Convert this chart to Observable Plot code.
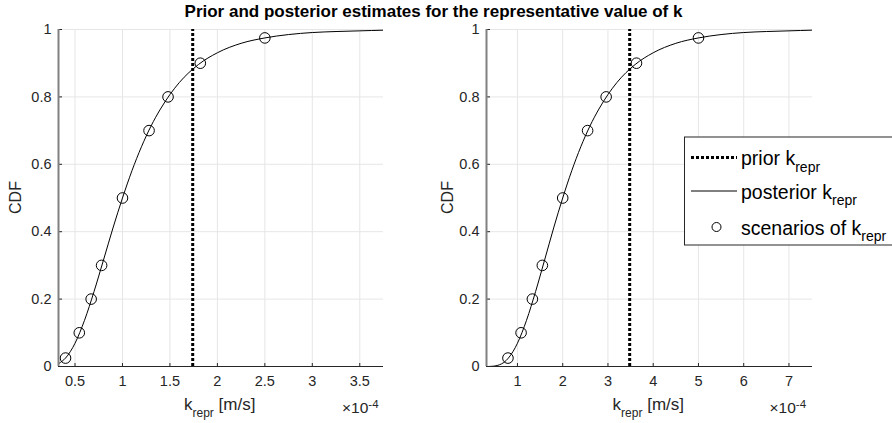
<!DOCTYPE html>
<html><head><meta charset="utf-8">
<script src="https://cdn.jsdelivr.net/npm/d3@7"></script>
<script src="https://cdn.jsdelivr.net/npm/@observablehq/plot@0.6"></script>
<style>
html,body{margin:0;padding:0;background:#fff;}
body{width:892px;height:423px;overflow:hidden;position:relative;font-family:"Liberation Sans",Arial,Helvetica,sans-serif;}
.panel{position:absolute;top:0;}
#overlay{position:absolute;left:0;top:0;pointer-events:none;}
</style></head><body>
<div id="left" class="panel" style="left:0px"></div>
<div id="right" class="panel" style="left:440px"></div>
<svg id="overlay" width="892" height="423" xmlns="http://www.w3.org/2000/svg"></svg>
<script>
// ---- data (k in units of 1e-4 m/s) ----
const titleText = "Prior and posterior estimates for the representative value of k";
const cdfLevels = [0.025, 0.1, 0.2, 0.3, 0.5, 0.7, 0.8, 0.9, 0.975];
const leftScenarioK  = [0.40, 0.545, 0.67, 0.78, 1.0, 1.28, 1.48, 1.82, 2.5];
const rightScenarioK = [0.79, 1.08, 1.33, 1.55, 2.0, 2.55, 2.96, 3.63, 5.0];
const leftPriorK = 1.74;
const rightPriorK = 3.48;
const leftCurveK   = [0.33, 0.4, 0.5, 0.6, 0.7, 0.8, 0.9, 1.0, 1.1, 1.2, 1.3, 1.4, 1.5, 1.6, 1.8, 2.0, 2.25, 2.5, 2.75, 3.0, 3.25, 3.5, 3.75];
const leftCurveCDF = [0.009, 0.025, 0.069, 0.137, 0.222, 0.316, 0.411, 0.5, 0.581, 0.652, 0.713, 0.764, 0.807, 0.843, 0.896, 0.931, 0.959, 0.975, 0.985, 0.991, 0.994, 0.996, 0.998];
const rightCurveK   = [0.32, 0.4, 0.5, 0.6, 0.7, 0.8, 1.0, 1.2, 1.4, 1.6, 1.8, 2.0, 2.2, 2.4, 2.6, 2.8, 3.0, 3.2, 3.6, 4.0, 4.5, 5.0, 5.5, 6.0, 6.5, 7.0, 7.5];
const rightCurveCDF = [0.0, 0.0003, 0.0015, 0.005, 0.012, 0.025, 0.069, 0.137, 0.222, 0.316, 0.411, 0.5, 0.581, 0.652, 0.713, 0.764, 0.807, 0.843, 0.896, 0.931, 0.959, 0.975, 0.985, 0.991, 0.994, 0.996, 0.998];
const leftXTicks  = [0.5, 1, 1.5, 2, 2.5, 3, 3.5];
const rightXTicks = [1, 2, 3, 4, 5, 6, 7];
const yTicks = [0, 0.2, 0.4, 0.6, 0.8, 1];
const leftXDomain = [0.326, 3.75];
const rightXDomain = [0.316, 7.52];

const FONT = '"Liberation Sans", Arial, Helvetica, sans-serif';
const TXT = "#262626";
const GRID = "#e6e6e6";

function panel(cfg) {
  const W = cfg.width, H = 423, mt = 29, mb = 57;
  const pw = W - cfg.ml - cfg.mr, ph = H - mt - mb;
  const curve = cfg.curveK.map((k, i) => ({k, p: cfg.curveCDF[i]}));
  const scen = cfg.scenK.map((k, i) => ({k, p: cdfLevels[i]}));
  return Plot.plot({
    width: W, height: H, marginTop: mt, marginBottom: mb, marginLeft: cfg.ml, marginRight: cfg.mr,
    style: {fontFamily: FONT, fontSize: "14.5px", color: TXT, background: "transparent", overflow: "visible"},
    x: {domain: cfg.xDomain, ticks: cfg.xTicks, tickSize: 0, tickPadding: 9, tickFormat: d => String(d), label: null},
    y: {domain: [0, 1], ticks: yTicks, tickSize: 0, tickPadding: 7, tickFormat: d => String(d), label: null},
    marks: [
      Plot.ruleX(cfg.xTicks, {stroke: GRID, strokeWidth: 1}),
      Plot.ruleY(yTicks, {stroke: GRID, strokeWidth: 1}),
      Plot.ruleX([cfg.prior], {y1: 0, y2: 1, stroke: "black", strokeWidth: 3, strokeDasharray: "3,2"}),
      Plot.line(curve, {x: "k", y: "p", curve: "monotone-x", stroke: "black", strokeWidth: 1, clip: true}),
      Plot.dot(scen, {x: "k", y: "p", r: 5.3, stroke: "black", strokeWidth: 1, fill: "none"}),
      Plot.tickX(cfg.xTicks, {x: d => d, stroke: TXT, insetTop: ph - 3}),
      Plot.tickY(yTicks, {y: d => d, stroke: TXT, insetRight: pw - 4}),
      Plot.ruleY([0], {stroke: TXT, strokeWidth: 1}),
      Plot.ruleX([cfg.xDomain[0]], {stroke: "#808080", strokeWidth: 2})
    ]
  });
}

document.getElementById("left").appendChild(panel({
  width: 440, ml: 58, mr: 57, xDomain: leftXDomain, xTicks: leftXTicks,
  curveK: leftCurveK, curveCDF: leftCurveCDF, scenK: leftScenarioK, prior: leftPriorK
}));
document.getElementById("right").appendChild(panel({
  width: 452, ml: 46, mr: 80, xDomain: rightXDomain, xTicks: rightXTicks,
  curveK: rightCurveK, curveCDF: rightCurveCDF, scenK: rightScenarioK, prior: rightPriorK
}));

// ---- annotations: title, axis labels, exponent, legend ----
const ov = d3.select("#overlay").style("font-family", FONT);
ov.append("text").attr("x", 433.5).attr("y", 16.5).attr("text-anchor", "middle")
  .attr("font-weight", "bold").attr("font-size", 17).attr("fill", "black").text(titleText);

function yLabel(x) {
  ov.append("text").attr("transform", `translate(${x},197.5) rotate(-90)`).attr("text-anchor", "middle")
    .attr("font-size", 16).attr("fill", TXT).text("CDF");
}
yLabel(20.5); yLabel(453);

function xLabel(cx) {
  const t = ov.append("text").attr("x", cx).attr("y", 410).attr("text-anchor", "middle")
    .attr("font-size", 17).attr("fill", TXT);
  t.append("tspan").text("k");
  t.append("tspan").attr("font-size", 12).attr("dy", 6.5).text("repr");
  t.append("tspan").attr("dy", -6.5).text(" [m/s]");
}
xLabel(219.7); xLabel(648.3);

function expo(x) {
  const t = ov.append("text").attr("x", x).attr("y", 412.7).attr("font-size", 15.5).attr("fill", TXT);
  t.append("tspan").text("\u00d710");
  t.append("tspan").attr("font-size", 11.5).attr("dy", -5).text("-4");
}
expo(342); expo(769.5);

// legend
const lg = ov.append("g");
lg.append("rect").attr("x", 684.5).attr("y", 137).attr("width", 230).attr("height", 108)
  .attr("fill", "white").attr("stroke", TXT).attr("stroke-width", 1);
const rows = [
  {y: 157.5, label: "prior k", kind: "dot"},
  {y: 191, label: "posterior k", kind: "line"},
  {y: 227, label: "scenarios of k", kind: "circle"}
];
rows.forEach(r => {
  if (r.kind === "dot") lg.append("line").attr("x1", 691).attr("x2", 737).attr("y1", r.y).attr("y2", r.y)
    .attr("stroke", "black").attr("stroke-width", 3).attr("stroke-dasharray", "3,2");
  if (r.kind === "line") lg.append("line").attr("x1", 691).attr("x2", 737).attr("y1", r.y).attr("y2", r.y)
    .attr("stroke", "black").attr("stroke-width", 1);
  if (r.kind === "circle") lg.append("circle").attr("cx", 716.5).attr("cy", r.y).attr("r", 4.5)
    .attr("fill", "none").attr("stroke", "black").attr("stroke-width", 1);
  const t = lg.append("text").attr("x", 741).attr("y", r.y + 7.5).attr("font-size", 19.5).attr("fill", "black");
  t.append("tspan").text(r.label);
  t.append("tspan").attr("font-size", 14).attr("dy", 6.5).text("repr");
});
</script>
</body></html>
